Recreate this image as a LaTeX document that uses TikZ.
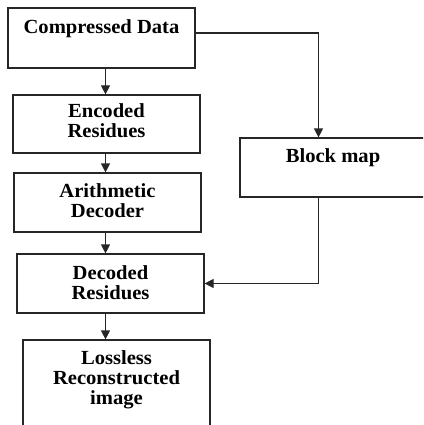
\documentclass[tikz,border=0pt]{standalone}
\usepackage{fontspec}
\setmainfont[FakeStretch=1.03]{Liberation Serif}
\usetikzlibrary{arrows.meta}
\begin{document}
\begin{tikzpicture}[x=1pt,y=-1pt,
  box/.style={draw=black!85, line width=1.2pt, rectangle, inner sep=0pt},
  lbl/.style={anchor=north, inner sep=0pt, align=center, text=black,
    font=\fontsize{20}{20}\selectfont\bfseries},
  flow/.style={draw=black!85, line width=1.2pt, -{Triangle[length=9pt,width=9pt]}}]
\useasboundingbox (0,0) rectangle (423,425);
\clip (0,0) rectangle (423,425);

% boxes of the decoding chain
\node[box, minimum width=187pt, minimum height=60pt] (cd) at (101.5,38) {};
\node[box, minimum width=187pt, minimum height=58pt] (er) at (106.5,124) {};
\node[box, minimum width=187pt, minimum height=59pt] (ad) at (107.5,202.5) {};
\node[box, minimum width=187pt, minimum height=59pt] (dr) at (110.5,283.5) {};
\node[box, minimum width=187pt, minimum height=100pt] (lr) at (116.5,390) {};
\node[box, minimum width=186pt, minimum height=59pt] (bm) at (333,167.5) {};

% labels, set near the top of each box
\node[lbl, yshift=-12pt] (cdt) at (cd.north) {Compressed Data};
\node[lbl, yshift=-9pt] (ert) at (er.north) {Encoded\\Residues};
\node[lbl, yshift=-11pt] (adt) at (ad.north) {Arithmetic\\Decoder};
\node[lbl, yshift=-12pt] (drt) at (dr.north) {Decoded\\Residues};
\node[lbl, yshift=-11pt] (lrt) at (lr.north) {Lossless\\Reconstructed\\image};
\node[lbl, yshift=-11pt] (bmt) at (bm.north) {Block map};

% guide coordinates for the connector lines
\coordinate (ax) at (105.5,0);
\coordinate (bx) at (318.5,33);

% connectors
\draw[flow] (cd.south -| ax) -- (er.north -| ax);
\draw[flow] (er.south -| ax) -- (ad.north -| ax);
\draw[flow] (ad.south -| ax) -- (dr.north -| ax);
\draw[flow] (dr.south -| ax) -- (lr.north -| ax);
\draw[flow] (cd.east |- bx) -| (bm.north -| bx);
\draw[flow] (bm.south -| bx) |- (dr.east);
\end{tikzpicture}
\end{document}
